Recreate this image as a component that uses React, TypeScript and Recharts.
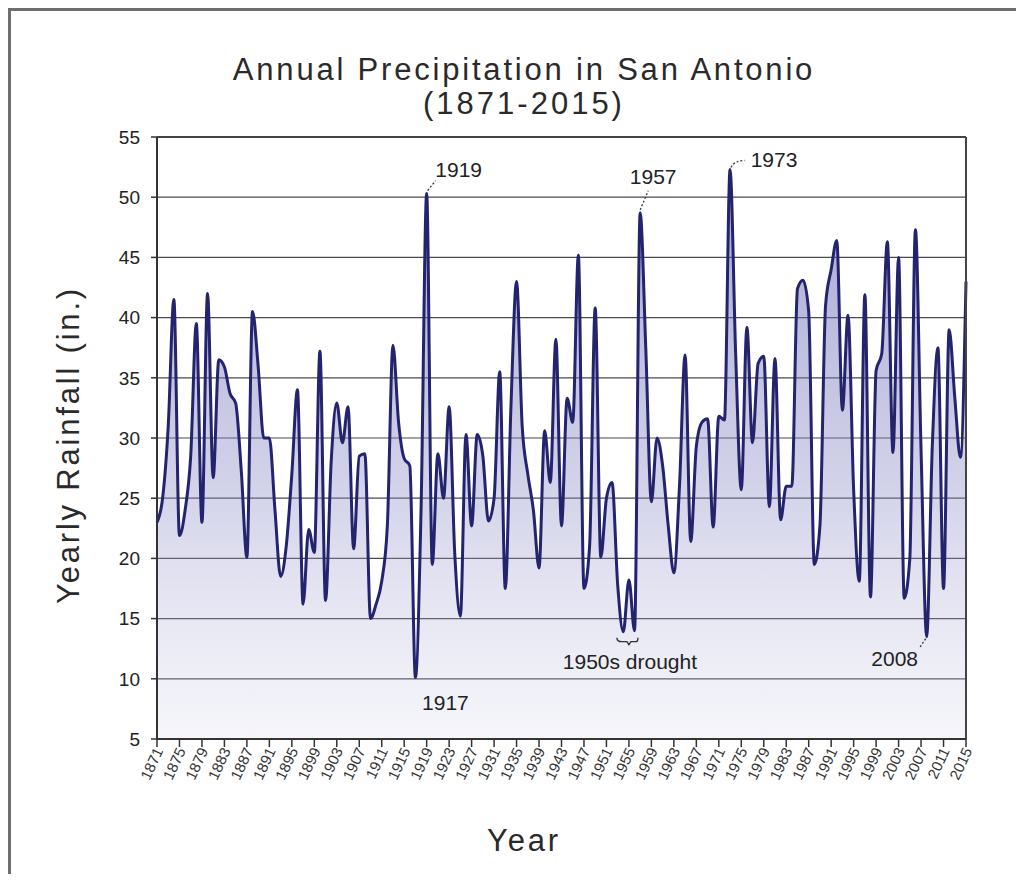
import React from 'react';
import { AreaChart, Area, XAxis, YAxis, CartesianGrid, ReferenceLine, ReferenceDot } from 'recharts';

// yearly rainfall in inches, 1871..2015
const startYear = 1871;
const rainfall = [
  23, 25, 31, 41.5, 21.9, 24, 28.5, 39.5, 23, 42, // 1871-1880
  26.7, 36.5, 35.9, 33.7, 32.9, 27.3, 20.1, 40.5, 36, 30, // 1881-1890
  30, 24, 18.5, 21, 27, 34, 16.2, 22.4, 20.5, 37.2, // 1891-1900
  16.5, 28, 32.9, 29.6, 32.6, 20.8, 28.5, 28.7, 15, 16.2, // 1901-1910
  18.1, 22.7, 37.7, 31.3, 28.3, 27.7, 10.1, 24, 50.3, 19.5, // 1911-1920
  28.7, 25, 32.6, 20.4, 15.2, 30.3, 22.7, 30.3, 28.5, 23.1, // 1921-1930
  25, 35.5, 17.5, 32.6, 43, 31, 27, 24, 19.2, 30.6, // 1931-1940
  26.3, 38.2, 22.7, 33.3, 31.3, 45.2, 17.5, 21, 40.8, 20.1, // 1941-1950
  25, 26.3, 17.8, 13.9, 18.2, 14, 48.7, 37.5, 24.7, 30, // 1951-1960
  27.7, 22.7, 18.8, 26, 36.9, 21.4, 29.3, 31.3, 31.6, 22.6, // 1961-1970
  31.8, 31.5, 52.3, 37, 25.7, 39.2, 29.6, 36.2, 36.8, 24.3, // 1971-1980
  36.6, 23.2, 26, 26, 42.4, 43.1, 40.5, 19.5, 22.7, 41, // 1981-1990
  44, 46.4, 32.3, 40.2, 25.7, 18.1, 41.9, 16.8, 35.6, 37, // 1991-2000
  46.3, 28.8, 45, 16.7, 20, 47.3, 29, 13.5, 29.3, 37.5, // 2001-2010
  17.5, 39, 33.4, 28.4, 43, // 2011-2015
];

const yTicks = [5, 10, 15, 20, 25, 30, 35, 40, 45, 50, 55];
const xTicks = [
  1871, 1875, 1879, 1883, 1887, 1891, 1895, 1899, 1903, 1907, 1911, 1915, 1919,
  1923, 1927, 1931, 1935, 1939, 1943, 1947, 1951, 1955, 1959, 1963, 1967, 1971,
  1975, 1979, 1983, 1987, 1991, 1995, 1999, 2003, 2007, 2011, 2015,
];

const noteYears = [1917, 1919, 1957, 1973, 2008];
const droughtYears = [1954, 1956];
const droughtLabel = '1950s drought';

const data = rainfall.map((rain, i) => ({ year: startYear + i, rain }));
const valueOf = (year: number) => rainfall[year - startYear];

// where each label sits relative to its point
const noteLayout: Record<number, { dx: number; dy: number; leader?: string }> = {
  1917: { dx: 30, dy: 25 },
  1919: { dx: 32, dy: -24, leader: 'M1,-3 L9,-13' },
  1957: { dx: 13, dy: -36, leader: 'M0,-3 L8,-22' },
  1973: { dx: 44, dy: -10, leader: 'M1,-2 Q4,-9 15,-9' },
  2008: { dx: -32, dy: 22, leader: 'M-1,2 L-7,11' },
};

const FONT = '"Liberation Sans", Arial, sans-serif';

function YearTick({ x, y, payload }: any) {
  return (
    <g transform={`translate(${x + 3},${y})`}>
      <text transform="rotate(-65)" textAnchor="end" fontSize={15} fill="#333" dy={4}>
        {payload.value}
      </text>
    </g>
  );
}

function Note({ cx, cy, year }: any) {
  const l = noteLayout[year];
  if (cx == null || !l) return null;
  return (
    <g transform={`translate(${cx},${cy})`}>
      {l.leader && (
        <path d={l.leader} fill="none" stroke="#333" strokeWidth={1.3} strokeDasharray="2 2" />
      )}
      <text x={l.dx} y={l.dy} textAnchor="middle" dominantBaseline="central" fontSize={21} fill="#222">
        {year}
      </text>
    </g>
  );
}

function DroughtNote({ cx, cy }: any) {
  if (cx == null) return null;
  return (
    <g transform={`translate(${cx},${cy})`}>
      <path d="M-12,1 Q-12,5 -7,5 L-2,5 L0,8 L2,5 L7,5 Q9,5 9,1" fill="none" stroke="#333" strokeWidth={1.4} />
      <text x={1} y={25} textAnchor="middle" dominantBaseline="central" fontSize={21} fill="#222">
        {droughtLabel}
      </text>
    </g>
  );
}

export default function App() {
  const droughtMin = Math.min(...rainfall.slice(droughtYears[0] - startYear, droughtYears[1] - startYear + 1));
  return (
    <div style={{ position: 'relative', width: 1008, height: 866, fontFamily: FONT, background: '#fff' }}>
      <AreaChart
        width={1008}
        height={866}
        data={data}
        margin={{ top: 129, right: 50, bottom: 62, left: 89 }}
      >
        <defs>
          <linearGradient id="rainFill" x1="0" y1="0" x2="0" y2="1">
            <stop offset="0%" stopColor="#5656ac" stopOpacity={0.9} />
            <stop offset="55%" stopColor="#8585c4" stopOpacity={0.62} />
            <stop offset="100%" stopColor="#c8c8e6" stopOpacity={0.3} />
          </linearGradient>
        </defs>
        <CartesianGrid vertical={false} stroke="#4a4a4a" strokeWidth={1.2} />
        <XAxis
          type="number"
          dataKey="year"
          domain={[1871, 2015]}
          ticks={xTicks}
          interval={0}
          tickSize={8}
          height={73}
          axisLine={{ stroke: '#333', strokeWidth: 2 }}
          tickLine={{ stroke: '#333', strokeWidth: 1.5 }}
          tick={<YearTick />}
        />
        <YAxis
          domain={[5, 55]}
          ticks={yTicks}
          interval={0}
          width={60}
          tickSize={6}
          tickMargin={11}
          axisLine={{ stroke: '#333', strokeWidth: 2 }}
          tickLine={{ stroke: '#333', strokeWidth: 1.5 }}
          tick={{ fontSize: 19, fill: '#222' }}
        />
        <ReferenceLine x={2015} stroke="#444" strokeWidth={2} />
        <ReferenceLine y={55} stroke="#444" strokeWidth={2} />
        <Area
          type="monotone"
          dataKey="rain"
          stroke="#23236e"
          strokeWidth={3}
          fill="url(#rainFill)"
          dot={false}
          activeDot={false}
          isAnimationActive={false}
        />
        {noteYears.map((yr) => (
          <ReferenceDot
            key={yr}
            x={yr}
            y={valueOf(yr)}
            r={0}
            ifOverflow="visible"
            shape={(p: any) => <Note {...p} year={yr} />}
          />
        ))}
        <ReferenceDot
          x={(droughtYears[0] + droughtYears[1]) / 2}
          y={droughtMin - 0.4}
          r={0}
          ifOverflow="visible"
          shape={(p: any) => <DroughtNote {...p} />}
        />
      </AreaChart>

      {/* titles and frame */}
      <svg
        width={1008}
        height={866}
        style={{ position: 'absolute', left: 0, top: 0, pointerEvents: 'none' }}
      >
        <text x={516} y={72} textAnchor="middle" fontSize={31} letterSpacing={2.8} fill="#2a2a2a">
          Annual Precipitation in San Antonio
        </text>
        <text x={516} y={106} textAnchor="middle" fontSize={31} letterSpacing={3} fill="#2a2a2a">
          (1871-2015)
        </text>
        <text
          x={71}
          y={437}
          textAnchor="middle"
          fontSize={31}
          letterSpacing={2.8}
          fill="#2a2a2a"
          transform="rotate(-90 71 437)"
        >
          Yearly Rainfall (in.)
        </text>
        <text x={516} y={843} textAnchor="middle" fontSize={31} letterSpacing={2.8} fill="#2a2a2a">
          Year
        </text>
        <path d="M1.5,866 L1.5,1.5 L1008,1.5" fill="none" stroke="#6e6e6e" strokeWidth={3} />
      </svg>
    </div>
  );
}
